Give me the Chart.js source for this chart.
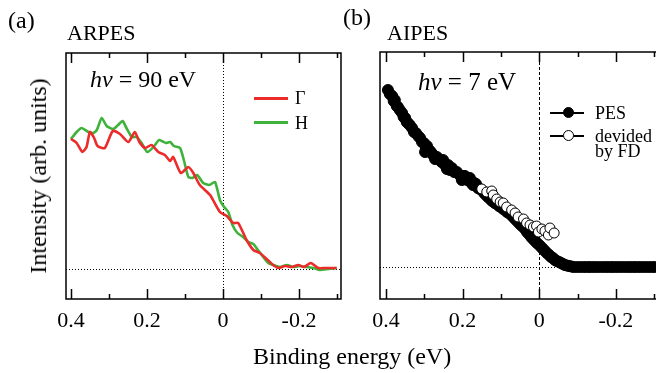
<!DOCTYPE html>
<html>
<head>
<meta charset="utf-8">
<script src="https://cdn.jsdelivr.net/npm/chart.js@4.4.1/dist/chart.umd.min.js"></script>
<style>
  body { margin: 0; width: 656px; height: 373px; overflow: hidden; background: #fff; position: relative; font-family: 'Liberation Serif', 'Times New Roman', serif; color: #000; }
  canvas { position: absolute; top: 0; }
  .lbl { position: absolute; line-height: 1; white-space: nowrap; font-family: 'Liberation Serif', 'Times New Roman', serif; }
  .line { position: absolute; height: 3px; }
  .dot { position: absolute; width: 11px; height: 11px; border-radius: 50%; border: 1px solid #000; box-sizing: border-box; }
</style>
</head>
<body>
<canvas id="arpesChart" width="350" height="373" style="left:0"></canvas>
<canvas id="aipesChart" width="340" height="373" style="left:330px"></canvas>

<div class="lbl" style="left:8px; top:8px; font-size:24px">(a)</div>
<div class="lbl" style="left:67px; top:22px; font-size:22px">ARPES</div>
<div class="lbl" style="left:90px; top:67px; font-size:24px"><i>hν</i> = 90 eV</div>
<div class="line" style="left:254px; top:97px; width:34px; background:rgb(236,43,43)"></div>
<div class="lbl" style="left:295px; top:89px; font-size:18px">Γ</div>
<div class="line" style="left:254px; top:121px; width:34px; background:rgb(62,178,58)"></div>
<div class="lbl" style="left:295px; top:114px; font-size:18px">H</div>

<div class="lbl" style="left:343px; top:5px; font-size:24px">(b)</div>
<div class="lbl" style="left:387px; top:22px; font-size:22px">AIPES</div>
<div class="lbl" style="left:418px; top:69px; font-size:25px"><i>hν</i> = 7 eV</div>
<div class="line" style="left:550px; top:112px; width:34px; height:2px; background:#000"></div>
<div class="dot" style="left:563px; top:107px; background:#000"></div>
<div class="lbl" style="left:595px; top:104px; font-size:18px">PES</div>
<div class="line" style="left:550px; top:135px; width:34px; height:2px; background:#000"></div>
<div class="dot" style="left:563px; top:130px; background:#fff"></div>
<div class="lbl" style="left:595px; top:127px; font-size:18px">devided</div>
<div class="lbl" style="left:595px; top:142px; font-size:18px">by FD</div>

<div class="lbl" style="left:38px; top:176px; font-size:24px; transform:translate(-50%,-50%) rotate(-90deg)">Intensity (arb. units)</div>
<div class="lbl" style="left:253px; top:344px; font-size:24px">Binding energy (eV)</div>

<script>
// tick positions (eV), labels only on every second one
const tickValues = [0.4, 0.3, 0.2, 0.1, 0, -0.1, -0.2, -0.3];

// (a) ARPES, Gamma point
const gammaEnergy = [0.4, 0.385, 0.37, 0.359, 0.35, 0.339, 0.33, 0.311, 0.29, 0.271, 0.249, 0.232, 0.22, 0.205, 0.188, 0.17, 0.153, 0.139, 0.131, 0.111, 0.091, 0.078, 0.061, 0.034, 0.008, -0.01, -0.027, -0.04, -0.062, -0.08, -0.097, -0.115, -0.132, -0.146, -0.163, -0.181, -0.198, -0.213, -0.231, -0.251, -0.268, -0.286, -0.299];
const gammaIntensity = [1.30, 1.26, 1.17, 1.22, 1.37, 1.31, 1.23, 1.21, 1.38, 1.35, 1.27, 1.37, 1.27, 1.21, 1.24, 1.17, 1.14, 1.08, 1.12, 0.96, 1.02, 0.96, 0.84, 0.74, 0.57, 0.53, 0.46, 0.46, 0.29, 0.19, 0.16, 0.10, 0.04, 0.01, 0.03, 0.02, 0.04, 0.02, 0.06, 0.01, 0.01, 0.01, 0.01];

// (a) ARPES, H point
const hEnergy = [0.4, 0.385, 0.372, 0.354, 0.341, 0.332, 0.319, 0.306, 0.289, 0.276, 0.264, 0.254, 0.24, 0.227, 0.214, 0.199, 0.183, 0.168, 0.15, 0.139, 0.129, 0.113, 0.103, 0.091, 0.08, 0.068, 0.052, 0.036, 0.021, 0.008, -0.003, -0.014, -0.025, -0.038, -0.053, -0.067, -0.08, -0.09, -0.106, -0.119, -0.132, -0.15, -0.168, -0.185, -0.203, -0.22, -0.238, -0.255, -0.277, -0.299];
const hIntensity = [1.30, 1.37, 1.41, 1.37, 1.36, 1.39, 1.51, 1.43, 1.40, 1.44, 1.48, 1.41, 1.32, 1.32, 1.26, 1.17, 1.22, 1.29, 1.26, 1.27, 1.23, 1.21, 1.09, 0.92, 0.91, 0.94, 0.86, 0.84, 0.87, 0.69, 0.62, 0.57, 0.44, 0.36, 0.32, 0.27, 0.25, 0.20, 0.12, 0.06, 0.04, 0.02, 0.04, 0.02, 0.03, 0.02, 0.01, -0.01, 0.00, 0.01];

// (b) AIPES, raw PES
const pesEnergy = [0.395, 0.39, 0.384, 0.38, 0.377, 0.372, 0.369, 0.364, 0.358, 0.354, 0.35, 0.346, 0.343, 0.338, 0.332, 0.327, 0.322, 0.316, 0.311, 0.306, 0.301, 0.298, 0.296, 0.293, 0.289, 0.285, 0.281, 0.277, 0.272, 0.267, 0.26, 0.255, 0.251, 0.246, 0.241, 0.238, 0.233, 0.228, 0.222, 0.215, 0.208, 0.202, 0.198, 0.194, 0.188, 0.181, 0.177, 0.173, 0.169, 0.165, 0.16, 0.155, 0.15, 0.144, 0.139, 0.134, 0.128, 0.123, 0.116, 0.11, 0.105, 0.1, 0.094, 0.089, 0.084, 0.079, 0.073, 0.068, 0.063, 0.058, 0.053, 0.048, 0.042, 0.037, 0.032, 0.027, 0.021, 0.016, 0.011, 0.006, 0, -0.005, -0.01, -0.015, -0.02, -0.026, -0.031, -0.036, -0.041, -0.046, -0.052, -0.057, -0.062, -0.067, -0.072, -0.078, -0.084, -0.09, -0.1, -0.11, -0.12, -0.13, -0.14, -0.15, -0.16, -0.17, -0.18, -0.19, -0.2, -0.21, -0.22, -0.23, -0.24, -0.25, -0.26, -0.27, -0.28, -0.29, -0.3];
const pesIntensity = [1.77, 1.73, 1.71, 1.66, 1.67, 1.61, 1.60, 1.57, 1.54, 1.50, 1.49, 1.45, 1.44, 1.42, 1.39, 1.35, 1.34, 1.31, 1.29, 1.25, 1.24, 1.15, 1.20, 1.21, 1.17, 1.16, 1.14, 1.12, 1.08, 1.10, 1.07, 1.05, 1.07, 1.02, 0.98, 1.02, 0.97, 0.99, 0.95, 0.95, 0.92, 0.87, 0.91, 0.91, 0.87, 0.89, 0.84, 0.82, 0.84, 0.83, 0.79, 0.78, 0.77, 0.74, 0.72, 0.70, 0.68, 0.66, 0.64, 0.63, 0.61, 0.60, 0.58, 0.57, 0.55, 0.54, 0.52, 0.50, 0.48, 0.46, 0.44, 0.42, 0.40, 0.38, 0.35, 0.33, 0.30, 0.28, 0.26, 0.24, 0.22, 0.20, 0.18, 0.16, 0.14, 0.12, 0.10, 0.09, 0.07, 0.06, 0.05, 0.04, 0.03, 0.02, 0.015, 0.01, 0.005, 0.00, 0.00, 0.00, 0.00, 0.00, 0.00, 0.00, 0.00, 0.00, 0.00, 0.00, 0.00, 0.00, 0.00, 0.00, 0.00, 0.00, 0.00, 0.00, 0.00, 0.00, 0.00];

// (b) AIPES divided by Fermi-Dirac
const fdEnergy = [0.15, 0.137, 0.124, 0.12, 0.111, 0.102, 0.094, 0.085, 0.072, 0.063, 0.055, 0.041, 0.033, 0.024, 0.015, 0.007, 0.002, -0.007, -0.015, -0.024, -0.028, -0.039];
const fdIntensity = [0.78, 0.75, 0.76, 0.72, 0.68, 0.65, 0.64, 0.60, 0.57, 0.54, 0.50, 0.48, 0.44, 0.42, 0.40, 0.41, 0.35, 0.38, 0.36, 0.32, 0.39, 0.34];

const toPoints = (xs, ys) => xs.map((x, i) => ({ x: x, y: ys[i] }));

// frame with inward ticks + dotted zero lines
const framePlugin = {
    id: 'frame',
    beforeDatasetsDraw(chart, args, opts) {
        const { ctx, chartArea: a, scales: { x, y } } = chart;
        const x0 = Math.round(x.getPixelForValue(0)) + 0.5;
        const y0 = Math.round(y.getPixelForValue(0)) + 0.5;
        ctx.save();
        ctx.strokeStyle = '#000';
        ctx.lineWidth = 1;
        ctx.setLineDash(opts.vDash);
        ctx.beginPath();
        ctx.moveTo(x0, a.top);
        ctx.lineTo(x0, a.bottom);
        ctx.stroke();
        ctx.setLineDash(opts.hDash);
        ctx.beginPath();
        ctx.moveTo(a.left, y0);
        ctx.lineTo(a.right, y0);
        ctx.stroke();
        ctx.restore();
    },
    afterDraw(chart) {
        const { ctx, chartArea: a, scales: { x } } = chart;
        ctx.save();
        ctx.strokeStyle = '#000';
        ctx.lineWidth = 1.5;
        ctx.strokeRect(a.left, a.top, a.right - a.left, a.bottom - a.top);
        ctx.beginPath();
        tickValues.forEach((v, i) => {
            const px = Math.round(x.getPixelForValue(v)) + 0.5;
            const len = i % 2 === 0 ? 10 : 5;
            ctx.moveTo(px, a.bottom);
            ctx.lineTo(px, a.bottom - len);
            ctx.moveTo(px, a.top);
            ctx.lineTo(px, a.top + len);
        });
        ctx.stroke();
        ctx.restore();
    }
};

function xAxis(min, max) {
    return {
        type: 'linear',
        reverse: true,
        min: min,
        max: max,
        grid: { display: false, drawTicks: false },
        border: { display: false },
        afterBuildTicks: scale => { scale.ticks = tickValues.map(v => ({ value: v })); },
        afterFit: scale => { scale.height = 40; },
        ticks: {
            autoSkip: false,
            maxRotation: 0,
            padding: 9,
            color: '#000',
            font: { family: "'Liberation Serif', 'Times New Roman', serif", size: 22 },
            callback: v => {
                if (Math.abs(v) < 1e-9) return '0';
                return Math.round(v * 10) % 2 === 0 ? v.toFixed(1) : '';
            }
        }
    };
}

const arpesChart = new Chart(document.getElementById('arpesChart'), {
    type: 'line',
    data: {
        datasets: [{
            label: 'Γ',
            data: toPoints(gammaEnergy, gammaIntensity),
            borderColor: 'rgb(236, 43, 43)',
            borderWidth: 2.6,
            pointRadius: 0,
            tension: 0.2
        }, {
            label: 'H',
            data: toPoints(hEnergy, hIntensity),
            borderColor: 'rgb(62, 178, 58)',
            borderWidth: 2.6,
            pointRadius: 0,
            tension: 0.2
        }]
    },
    options: {
        responsive: false,
        animation: false,
        layout: { padding: { left: 66, top: 53, right: 9, bottom: 34 } },
        scales: {
            x: xAxis(-0.3105, 0.413),
            y: { display: false, min: -0.30, max: 2.16 }
        },
        plugins: {
            legend: { display: false },
            tooltip: { enabled: false },
            frame: { vDash: [1, 2], hDash: [1, 2] }
        }
    },
    plugins: [framePlugin]
});

const aipesChart = new Chart(document.getElementById('aipesChart'), {
    type: 'scatter',
    data: {
        datasets: [{
            label: 'devided by FD',
            data: toPoints(fdEnergy, fdIntensity),
            backgroundColor: '#fff',
            borderColor: '#000',
            borderWidth: 1,
            pointRadius: 5,
            order: 1
        }, {
            label: 'PES',
            data: toPoints(pesEnergy, pesIntensity),
            backgroundColor: '#000',
            borderColor: '#000',
            borderWidth: 1,
            pointRadius: 5.5,
            order: 2
        }]
    },
    options: {
        responsive: false,
        animation: false,
        layout: { padding: { left: 50, top: 52, right: 8, bottom: 34 } },
        scales: {
            x: xAxis(-0.3206, 0.4157),
            y: { display: false, min: -0.32, max: 2.15 }
        },
        plugins: {
            legend: { display: false },
            tooltip: { enabled: false },
            frame: { vDash: [3, 2], hDash: [1, 2] }
        }
    },
    plugins: [framePlugin]
});
</script>
</body>
</html>
